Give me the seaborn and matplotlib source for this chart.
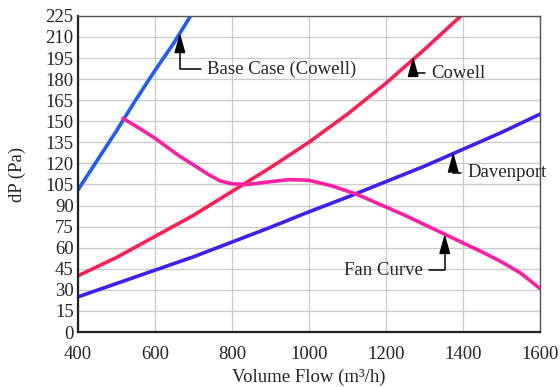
import pandas as pd
import matplotlib
matplotlib.use("Agg")
import matplotlib.pyplot as plt
import seaborn as sns

# Values
base_flow = [400, 450, 500, 550, 600, 650, 693]
base_dp = [101, 122, 143, 165, 186, 206, 225]

cowell_flow = [400, 500, 600, 700, 800, 900, 1000, 1100, 1200, 1300, 1395]
cowell_dp = [40, 53, 68, 83, 100, 117, 135, 155, 177, 201, 225]

davenport_flow = [400, 500, 600, 700, 800, 900, 1000, 1100, 1200, 1300, 1400, 1500, 1600]
davenport_dp = [25, 34.5, 44, 53.5, 64, 74.5, 85.5, 96, 107, 118, 130, 142, 155]

fan_flow = [517, 560, 600, 665, 700, 740, 770, 800, 840, 900, 950, 1000, 1060,
            1125, 1200, 1250, 1350, 1450, 1500, 1550, 1600]
fan_dp = [152, 145, 138, 125, 119, 112, 107.5, 105.5, 105, 107, 108.5, 108, 104,
          98, 89, 83, 70, 57, 50, 42, 31]

x_ticks = [400, 600, 800, 1000, 1200, 1400, 1600]
y_ticks = list(range(0, 226, 15))

series = [
    ("Base Case (Cowell)", base_flow, base_dp, "#1f5cff"),
    ("Cowell", cowell_flow, cowell_dp, "#ff1f55"),
    ("Davenport", davenport_flow, davenport_dp, "#3f1ff2"),
    ("Fan Curve", fan_flow, fan_dp, "#ff1fa0"),
]

sns.set_style("white")
plt.rcParams["font.family"] = ["Liberation Serif", "DejaVu Serif"]
plt.rcParams["font.size"] = 13

fig = plt.figure(figsize=(5.6, 3.87), dpi=100)
ax = fig.add_axes([0.139, 0.142, 0.825, 0.817])

for name, xs, ys, color in series:
    df = pd.DataFrame({"flow": xs, "dp": ys})
    sns.lineplot(data=df, x="flow", y="dp", ax=ax, color=color, linewidth=2.6,
                 sort=False, estimator=None, solid_capstyle="round",
                 solid_joinstyle="round")

ax.set_xlim(400, 1600)
ax.set_ylim(0, 225)
ax.set_xticks(x_ticks)
ax.set_yticks(y_ticks)
ax.grid(True, color="#cccccc", linewidth=1.0)
ax.set_axisbelow(True)
ax.tick_params(axis="both", length=0, labelsize=13.5, pad=3)
ax.tick_params(axis="x", pad=10)

for side in ["top", "right"]:
    ax.spines[side].set_color("#555555")
    ax.spines[side].set_linewidth(1.0)
for side in ["left", "bottom"]:
    ax.spines[side].set_color("#222222")
    ax.spines[side].set_linewidth(1.6)

ax.set_xlabel("Volume Flow (m³/h)", fontsize=13.5, labelpad=4)
ax.set_ylabel("dP (Pa)", fontsize=13.5, labelpad=14)

arrow = dict(arrowstyle="-|>,head_length=0.9,head_width=0.25", color="black",
             linewidth=1.1, shrinkA=2, shrinkB=0,
             connectionstyle="angle,angleA=0,angleB=90,rad=0")

ax.annotate("Base Case (Cowell)", xy=(665, 213), xytext=(735, 187),
            ha="left", va="center", fontsize=13.5, arrowprops=arrow)
ax.annotate("Cowell", xy=(1271, 196), xytext=(1318, 184),
            ha="left", va="center", fontsize=13.5, arrowprops=arrow)
ax.annotate("Davenport", xy=(1375, 128), xytext=(1411, 113.5),
            ha="left", va="center", fontsize=13.5, arrowprops=arrow,
            annotation_clip=False)
ax.annotate("Fan Curve", xy=(1353, 70), xytext=(1297, 44),
            ha="right", va="center", fontsize=13.5, arrowprops=arrow)

fig.savefig("out.png", dpi=100)
